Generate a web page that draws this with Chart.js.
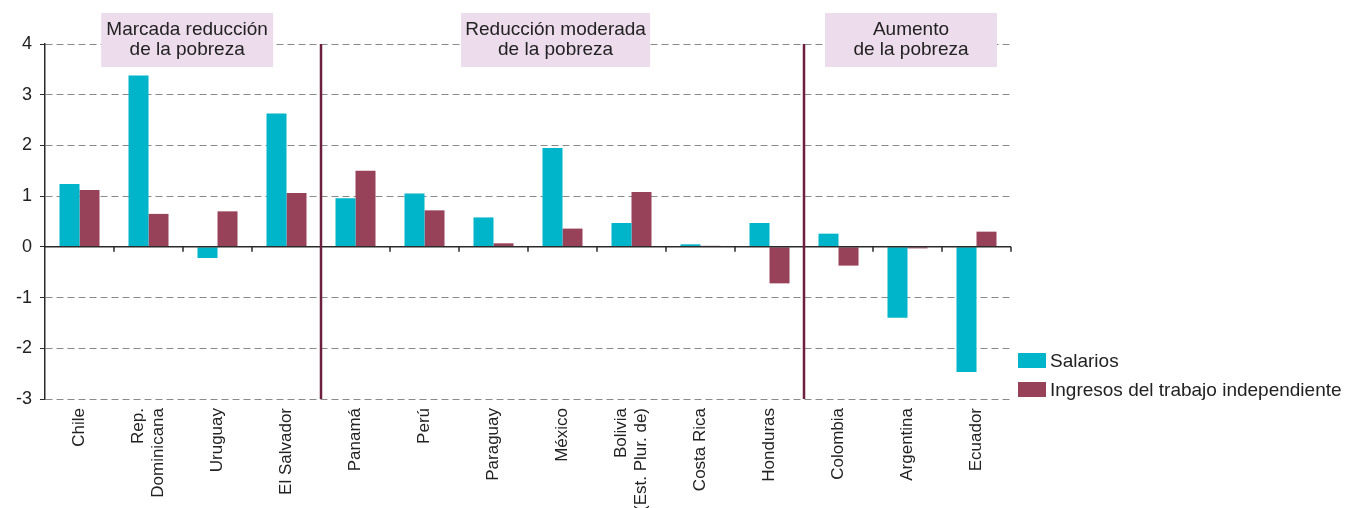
<!DOCTYPE html>
<html lang="es">
<head>
<meta charset="utf-8">
<title>Salarios e ingresos del trabajo independiente</title>
<script src="https://cdn.jsdelivr.net/npm/chart.js@4.4.1/dist/chart.umd.min.js"></script>
<style>
    body { margin: 0; background: #fff; }
    #wrap { position: relative; width: 1354px; height: 508px; }
    #legend {
        position: absolute; left: 1018px; top: 346px;
        font-family: "Liberation Sans", Arial, sans-serif; font-size: 19px; color: #222;
    }
    #legend .item { display: flex; align-items: center; height: 29px; }
    #legend .swatch { width: 28px; height: 15px; margin-right: 4px; }
</style>
</head>
<body>
<div id="wrap">
    <canvas id="chart" width="1354" height="508"></canvas>
    <div id="legend"></div>
</div>
<script>
// Data
const categories = [
    'Chile', ['Rep.', 'Dominicana'], 'Uruguay', 'El Salvador', 'Panamá', 'Perú', 'Paraguay',
    'México', ['Bolivia', '(Est. Plur. de)'], 'Costa Rica', 'Honduras', 'Colombia', 'Argentina', 'Ecuador'
];
const salarios = [1.24, 3.38, -0.22, 2.63, 0.96, 1.05, 0.58, 1.95, 0.47, 0.05, 0.47, 0.26, -1.40, -2.47];
const ingresosIndependientes = [1.12, 0.65, 0.70, 1.06, 1.50, 0.72, 0.07, 0.36, 1.08, 0.02, -0.72, -0.37, -0.03, 0.30];
const seriesNames = ['Salarios', 'Ingresos del trabajo independiente'];
const yTicks = [-3, -2, -1, 0, 1, 2, 3, 4];

// Groups: label lines, centre (in category units), separators after last index
const groupLabels = [
    ['Marcada reducción', 'de la pobreza'],
    ['Reducción moderada', 'de la pobreza'],
    ['Aumento', 'de la pobreza']
];
const groupCenters = [1.56, 6.9, 12.05];
const separatorsAfter = [3, 10];

const COLORS = {
    salarios: '#00b4ca',
    ingresos: '#98425a',
    separator: '#6d1f40',
    box: '#ecdcec',
    grid: '#8a8a8a',
    axis: '#2a2a2a',
    text: '#222'
};
const BOX_WIDTHS = [172, 189, 172];

Chart.defaults.font.family = '"Liberation Sans", Arial, sans-serif';
Chart.defaults.color = COLORS.text;

// Centre two-line x labels on their tick (Chart.js puts the first line on it)
const centerLabelsPlugin = {
    id: 'centerLabels',
    beforeDraw(chart) {
        const x = chart.scales.x;
        const items = x._labelItems || (x._labelItems = x._computeLabelItems(chart.chartArea));
        if (items._centered) return;
        items.forEach(item => {
            if (Array.isArray(item.label) && item.label.length > 1) {
                const lh = item.font.lineHeight;
                item.options.translation[0] -= lh * (item.label.length - 1) / 2;
            }
        });
        items._centered = true;
    }
};

// Extra drawing: zero line, group separators and group label boxes
const overlayPlugin = {
    id: 'overlay',
    afterDatasetsDraw(chart) {
        const { ctx, chartArea, scales: { x, y } } = chart;
        const y0 = y.getPixelForValue(0);
        ctx.save();

        // zero line with ticks between categories
        ctx.strokeStyle = COLORS.axis;
        ctx.lineWidth = 1.5;
        ctx.beginPath();
        ctx.moveTo(chartArea.left, y0);
        ctx.lineTo(chartArea.right, y0);
        categories.forEach((c, i) => {
            const px = x.getPixelForValue(i + 0.5);
            ctx.moveTo(px, y0);
            ctx.lineTo(px, y0 + 5);
        });
        ctx.stroke();

        // separators
        ctx.strokeStyle = COLORS.separator;
        ctx.lineWidth = 2.5;
        separatorsAfter.forEach(i => {
            const px = x.getPixelForValue(i + 0.5);
            ctx.beginPath();
            ctx.moveTo(px, y.getPixelForValue(4));
            ctx.lineTo(px, y.getPixelForValue(-3));
            ctx.stroke();
        });

        // group label boxes
        const top = chartArea.top - 31;
        ctx.font = '19px "Liberation Sans", Arial, sans-serif';
        ctx.textAlign = 'center';
        ctx.textBaseline = 'alphabetic';
        groupLabels.forEach((lines, g) => {
            const cx = x.getPixelForValue(groupCenters[g]);
            const w = BOX_WIDTHS[g];
            ctx.fillStyle = COLORS.box;
            ctx.fillRect(cx - w / 2, top, w, 54);
            ctx.fillStyle = COLORS.text;
            lines.forEach((line, k) => {
                ctx.fillText(line, cx, top + 22 + k * 19.5);
            });
        });
        ctx.restore();
    }
};

const chart = new Chart(document.getElementById('chart'), {
    type: 'bar',
    data: {
        labels: categories,
        datasets: [
            {
                label: seriesNames[0],
                data: salarios,
                backgroundColor: COLORS.salarios,
                categoryPercentage: 0.58,
                barPercentage: 1.0
            },
            {
                label: seriesNames[1],
                data: ingresosIndependientes,
                backgroundColor: COLORS.ingresos,
                categoryPercentage: 0.58,
                barPercentage: 1.0
            }
        ]
    },
    options: {
        responsive: false,
        animation: false,
        layout: { padding: { top: 44, right: 343, left: 0, bottom: 0 } },
        plugins: {
            legend: { display: false },
            tooltip: { enabled: false }
        },
        scales: {
            x: {
                grid: { display: false, drawTicks: false },
                border: { display: false },
                ticks: {
                    autoSkip: false,
                    minRotation: 90,
                    maxRotation: 90,
                    padding: 9,
                    font: { size: 17, lineHeight: 1.15 },
                    color: COLORS.text
                },
                afterFit: scale => { scale.height = 109; }
            },
            y: {
                min: -3,
                max: 4,
                afterBuildTicks: scale => { scale.ticks = yTicks.map(v => ({ value: v })); },
                grid: {
                    color: COLORS.grid,
                    lineWidth: 1,
                    tickLength: 5,
                    tickColor: COLORS.axis,
                    tickBorderDash: []
                },
                border: { display: true, color: COLORS.axis, width: 1.5, dash: [7, 4] },
                ticks: {
                    padding: 8,
                    font: { size: 18 },
                    color: COLORS.text
                },
                afterFit: scale => { scale.width = 45; }
            }
        }
    },
    plugins: [centerLabelsPlugin, overlayPlugin]
});

// HTML legend
const legendEl = document.getElementById('legend');
chart.data.datasets.forEach(ds => {
    const item = document.createElement('div');
    item.className = 'item';
    item.innerHTML = `<span class="swatch" style="background:${ds.backgroundColor}"></span><span>${ds.label}</span>`;
    legendEl.appendChild(item);
});
</script>
</body>
</html>
